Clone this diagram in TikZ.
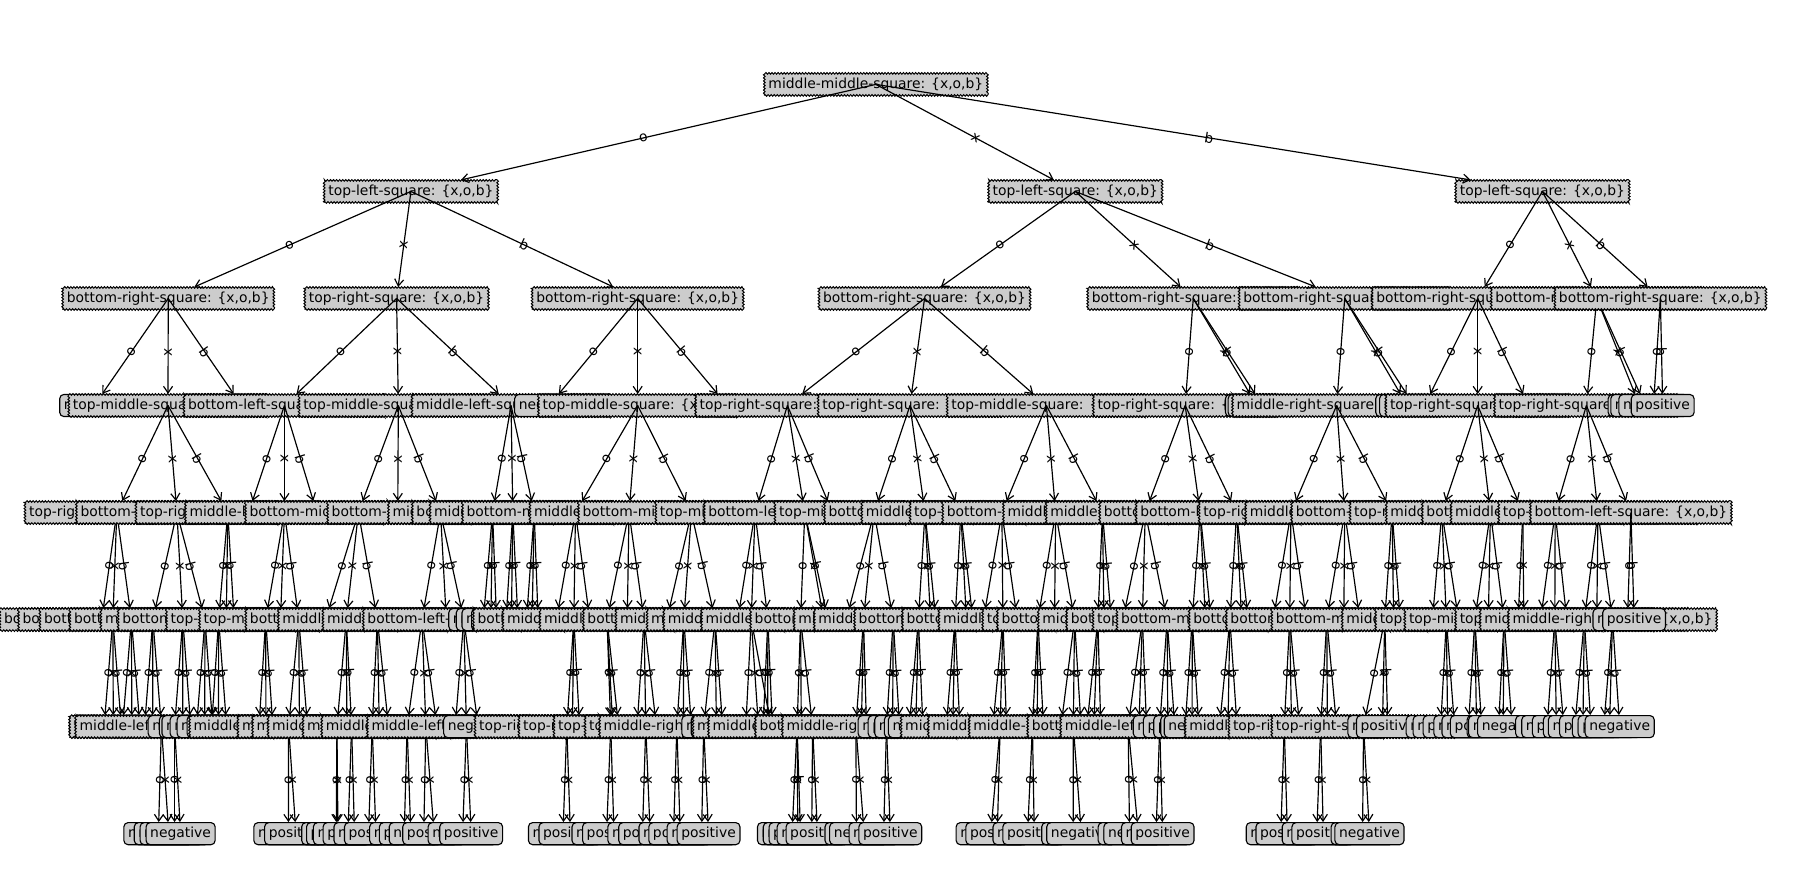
\documentclass[tikz,border=0pt]{standalone}
\usepackage{fontspec}
\setmainfont{DejaVu Sans}
\usetikzlibrary{arrows.meta,decorations.pathmorphing}
\definecolor{boxgray}{gray}{0.8}
\newcounter{lfc}
\newcommand\sq[1]{#1-square: \{x,o,b\}}
\newcommand\DEC[6]{\node[dn] (#2) at (#3,{73+92.57*#4}) {#5};
  \draw[edge] (#1.center) -- (#2);
  \path (#1.center) -- node[elab]{#6} (#2.center);}
\newcommand\LEAF[5]{\stepcounter{lfc}\node[lf] (lf\arabic{lfc}) at (#2,{73+92.57*#3}) {#4};
  \draw[edge] (#1.center) -- (lf\arabic{lfc});
  \path (#1.center) -- node[elab]{#5} (lf\arabic{lfc}.center);}
\newcommand\NEG[4]{\LEAF{#1}{#2}{#3}{negative}{#4}}
\newcommand\POS[4]{\LEAF{#1}{#2}{#3}{positive}{#4}}
\tikzset{
 dn/.style={draw, fill=boxgray, line width=0.7pt, inner xsep=3pt, inner ysep=3pt,
   text height=7.6pt, text depth=2.3pt, decorate,
   decoration={zigzag, segment length=2.2pt, amplitude=0.6pt}},
 lf/.style={draw, fill=boxgray, line width=0.8pt, rounded corners=3pt, inner xsep=3pt,
   inner ysep=3pt, text height=7.6pt, text depth=2.3pt},
 edge/.style={line width=0.85pt, -{Straight Barb[length=4.8pt,width=6.5pt]}},
 elab/.style={sloped, inner sep=0pt}
}
\begin{document}
\begin{tikzpicture}[x=0.8325pt,y=-0.8325pt]
\useasboundingbox (0,0) rectangle (1568,758);
\node[dn] (R) at (757.5,73) {\sq{middle-middle}};
% ---------------- A
\DEC{R}{A}{355.4}{1}{\sq{top-left}}{o}
 \DEC{A}{A1}{145.5}{2}{\sq{bottom-right}}{o}
  \NEG{A1}{81.5}{3}{o}
  \DEC{A1}{L3b}{145.3}{3}{\sq{top-middle}}{x}
   \DEC{L3b}{F1}{101}{4}{\sq{top-right}}{o}
    \NEG{F1}{88}{5}{o}
    \DEC{F1}{P1}{97.6}{5}{\sq{bottom-middle}}{x}
     \NEG{P1}{90}{6}{o} \POS{P1}{98}{6}{x} \NEG{P1}{105}{6}{b}
    \DEC{F1}{P2}{113.7}{5}{\sq{bottom-middle}}{b}
     \NEG{P2}{106}{6}{o} \POS{P2}{114}{6}{x} \NEG{P2}{121}{6}{b}
   \DEC{L3b}{F2}{153}{4}{\sq{bottom-left}}{x}
    \DEC{F2}{P3}{132.2}{5}{\sq{bottom-middle}}{o}
     \NEG{P3}{125}{6}{o} \POS{P3}{132}{6}{x}
     \DEC{P3}{a1}{139.6}{6}{\sq{top-right}}{b}
      \NEG{a1}{137}{7}{o} \NEG{a1}{146}{7}{x}
    \DEC{F2}{P4}{158.1}{5}{\sq{bottom-middle}}{x}
     \DEC{P4}{a2}{151}{6}{\sq{middle-left}}{o}
      \NEG{a2}{151}{7}{o} \NEG{a2}{156.2}{7}{x}
     \NEG{P4}{158}{6}{x} \POS{P4}{165}{6}{b}
    \DEC{F2}{P5}{177.3}{5}{\sq{middle-right}}{b}
     \NEG{P5}{170}{6}{o} \NEG{P5}{177}{6}{x} \POS{P5}{184}{6}{b}
   \DEC{L3b}{F3}{197}{4}{\sq{top-right}}{b}
    \DEC{F3}{P6}{189.1}{5}{\sq{bottom-left}}{o}
     \NEG{P6}{183}{6}{o} \POS{P6}{189}{6}{x} \NEG{P6}{196}{6}{b}
    \POS{F3}{195.7}{5}{x} \NEG{F3}{202.5}{5}{b}
  \POS{A1}{209}{3}{b}
 \DEC{A}{A2}{343}{2}{\sq{top-right}}{x}
  \DEC{A2}{L3d}{246}{3}{\sq{bottom-left}}{o}
   \NEG{L3d}{215}{4}{o}
   \DEC{L3d}{F4}{246}{4}{\sq{middle-left}}{x}
    \DEC{F4}{P7}{229.8}{5}{\sq{top-middle}}{o}
     \NEG{P7}{224}{6}{o} \POS{P7}{230}{6}{x} \NEG{P7}{236}{6}{b}
    \POS{F4}{242.6}{5}{x}
    \DEC{F4}{P8}{258.4}{5}{\sq{top-middle}}{b}
     \DEC{P8}{a3}{249.6}{6}{\sq{middle-left}}{o}
      \NEG{a3}{249.4}{7}{o} \POS{a3}{256}{7}{x}
     \POS{P8}{259}{6}{x} \NEG{P8}{266}{6}{b}
   \POS{L3d}{274}{4}{b}
  \DEC{A2}{L3e}{344.5}{3}{\sq{top-middle}}{x}
   \DEC{L3e}{F5}{310}{4}{\sq{bottom-middle}}{o}
    \NEG{F5}{281.6}{5}{o}
    \DEC{F5}{P9}{299.5}{5}{\sq{bottom-left}}{x}
     \DEC{P9}{a4}{291.4}{6}{\sq{middle-left}}{o}
      \NEG{a4}{290.8}{7}{o} \POS{a4}{292.3}{7}{x}
     \POS{P9}{300}{6}{x}
     \DEC{P9}{a5}{304.1}{6}{\sq{middle-left}}{b}
      \NEG{a5}{300.9}{7}{o} \POS{a5}{306.6}{7}{x}
    \DEC{F5}{P10}{326.4}{5}{\sq{middle-left}}{b}
     \DEC{P10}{a6}{321.9}{6}{\sq{middle-right}}{o}
      \NEG{a6}{318.7}{7}{o} \POS{a6}{325.1}{7}{x}
     \POS{P10}{328}{6}{x} \NEG{P10}{336}{6}{b}
   \NEG{L3e}{344}{4}{x}
   \DEC{L3e}{F6}{381}{4}{\sq{bottom-middle}}{b}
    \DEC{F6}{P11}{365}{5}{\sq{middle-left}}{o}
     \DEC{P11}{a7}{352.1}{6}{\sq{middle-right}}{o}
      \NEG{a7}{349.6}{7}{o} \POS{a7}{355.3}{7}{x}
     \DEC{P11}{a8}{368.3}{6}{\sq{middle-right}}{x}
      \NEG{a8}{366.5}{7}{o} \POS{a8}{375.5}{7}{x}
     \POS{P11}{378}{6}{b}
    \NEG{F6}{386}{5}{x}
    \DEC{F6}{P12}{401.1}{5}{\sq{bottom-left}}{b}
     \POS{P12}{393.7}{6}{o}
     \DEC{P12}{a9}{403.4}{6}{\sq{middle-left}}{x}
      \NEG{a9}{400.1}{7}{o} \POS{a9}{407.5}{7}{x}
     \NEG{P12}{413.6}{6}{b}
  \DEC{A2}{L3f}{442}{3}{\sq{middle-left}}{b}
   \DEC{L3f}{F7}{426}{4}{\sq{middle-right}}{o}
    \NEG{F7}{418}{5}{o} \NEG{F7}{424.5}{5}{x} \NEG{F7}{429.4}{5}{b}
   \DEC{L3f}{F8}{443.5}{4}{\sq{bottom-left}}{x}
    \NEG{F8}{437.7}{5}{o} \POS{F8}{442.3}{5}{x} \NEG{F8}{447.9}{5}{b}
   \DEC{L3f}{F9}{462}{4}{\sq{middle-right}}{b}
    \NEG{F9}{455.4}{5}{o} \POS{F9}{460.2}{5}{x} \NEG{F9}{465.4}{5}{b}
 \DEC{A}{A3}{551.5}{2}{\sq{bottom-right}}{b}
  \NEG{A3}{475}{3}{o}
  \DEC{A3}{L3h}{551.5}{3}{\sq{top-middle}}{x}
   \DEC{L3h}{F10}{497.7}{4}{\sq{bottom-middle}}{o}
    \NEG{F10}{481.3}{5}{o}
    \DEC{F10}{P13}{496.3}{5}{\sq{bottom-left}}{x}
     \DEC{P13}{a10}{490.2}{6}{\sq{top-right}}{o}
      \NEG{a10}{486.9}{7}{o} \POS{a10}{493.3}{7}{x}
     \POS{P13}{495}{6}{x} \NEG{P13}{501.3}{6}{b}
    \POS{F10}{510.1}{5}{b}
   \DEC{L3h}{F11}{544}{4}{\sq{middle-left}}{x}
    \DEC{F11}{P14}{525}{5}{\sq{middle-right}}{o}
     \DEC{P14}{a11}{528.2}{6}{\sq{top-right}}{o}
      \NEG{a11}{524.6}{7}{o} \POS{a11}{531}{7}{x}
     \POS{P14}{530}{6}{x} \NEG{P14}{535}{6}{b}
    \POS{F11}{542.5}{5}{x}
    \DEC{F11}{P15}{557}{5}{\sq{middle-right}}{b}
     \NEG{P15}{551}{6}{o}
     \DEC{P15}{a12}{558.5}{6}{\sq{top-right}}{x}
      \NEG{a12}{555.6}{7}{o} \POS{a12}{562.3}{7}{x}
     \POS{P15}{567.7}{6}{b}
   \DEC{L3h}{F12}{598}{4}{\sq{bottom-middle}}{b}
    \NEG{F12}{576.7}{5}{o}
    \DEC{F12}{P16}{591.4}{5}{\sq{bottom-left}}{x}
     \DEC{P16}{a13}{585.4}{6}{\sq{top-right}}{o}
      \NEG{a13}{582.5}{7}{o} \POS{a13}{588.3}{7}{x}
     \POS{P16}{591}{6}{x} \NEG{P16}{598}{6}{b}
    \DEC{F12}{P17}{618.4}{5}{\sq{middle-left}}{b}
     \DEC{P17}{a14}{608.6}{6}{\sq{middle-right}}{o}
      \NEG{a14}{606.8}{7}{o} \POS{a14}{612.8}{7}{x}
     \NEG{P17}{619.6}{6}{x} \POS{P17}{625}{6}{b}
  \POS{A3}{629}{3}{b}
% ---------------- B
\DEC{R}{B}{930}{1}{\sq{top-left}}{x}
 \DEC{B}{B1}{799.6}{2}{\sq{bottom-right}}{o}
  \DEC{B1}{L3j}{681}{3}{\sq{top-right}}{o}
   \DEC{L3j}{F13}{653}{4}{\sq{top-middle}}{o}
    \NEG{F13}{638}{5}{o}
    \DEC{F13}{P18}{649.7}{5}{\sq{middle-right}}{x}
     \NEG{P18}{645}{6}{o} \POS{P18}{656}{6}{x} \NEG{P18}{667}{6}{b}
    \DEC{F13}{P19}{664.1}{5}{\sq{middle-right}}{b}
     \NEG{P19}{660}{6}{o} \POS{P19}{664}{6}{x} \NEG{P19}{668}{6}{b}
   \DEC{L3j}{F14}{696}{4}{\sq{bottom-left}}{x}
    \DEC{F14}{P20}{692.4}{5}{\sq{middle-left}}{o}
     \DEC{P20}{a15}{689.4}{6}{\sq{middle-right}}{o}
      \NEG{a15}{685}{7}{o} \NEG{a15}{690}{7}{x} \POS{a15}{692.3}{7}{b}
     \POS{P20}{693}{6}{x}
     \DEC{P20}{a16}{702.8}{6}{\sq{middle-right}}{b}
      \NEG{a16}{702}{7}{o} \POS{a16}{707}{7}{x}
    \POS{F14}{712.4}{5}{x} \NEG{F14}{716.1}{5}{b}
   \POS{L3j}{720}{4}{b}
  \DEC{B1}{L3k}{787}{3}{\sq{top-right}}{x}
   \DEC{L3k}{F15}{756}{4}{\sq{top-middle}}{o}
    \NEG{F15}{731.9}{5}{o}
    \DEC{F15}{P21}{746.8}{5}{\sq{bottom-middle}}{x}
     \DEC{P21}{a17}{740.2}{6}{\sq{bottom-left}}{o}
      \POS{a17}{740.7}{7}{o} \NEG{a17}{747.4}{7}{x}
     \NEG{P21}{745}{6}{x} \POS{P21}{749.4}{6}{b}
    \DEC{F15}{P22}{772.5}{5}{\sq{middle-left}}{b}
     \DEC{P22}{a18}{766.7}{6}{\sq{middle-right}}{o}
      \NEG{a18}{764.2}{7}{o} \POS{a18}{770}{7}{x}
     \NEG{P22}{772}{6}{x} \POS{P22}{778}{6}{b}
   \DEC{L3k}{F16}{800}{4}{\sq{bottom-left}}{x}
    \DEC{F16}{P23}{794.3}{5}{\sq{middle-right}}{o}
     \NEG{P23}{786.4}{6}{o} \POS{P23}{792}{6}{x} \NEG{P23}{798.2}{6}{b}
    \POS{F16}{804.8}{5}{x} \NEG{F16}{809.4}{5}{b}
   \DEC{L3k}{F17}{831}{4}{\sq{middle-left}}{b}
    \DEC{F17}{P24}{826}{5}{\sq{bottom-left}}{o}
     \NEG{P24}{818.4}{6}{o} \POS{P24}{824}{6}{x} \NEG{P24}{830.1}{6}{b}
    \POS{F17}{835.8}{5}{x} \NEG{F17}{841.4}{5}{b}
  \DEC{B1}{L3l}{905}{3}{\sq{top-middle}}{b}
   \DEC{L3l}{F18}{866.5}{4}{\sq{top-right}}{o}
    \NEG{F18}{850.5}{5}{o}
    \DEC{F18}{P25}{867.4}{5}{\sq{bottom-left}}{x}
     \NEG{P25}{858.7}{6}{o}
     \DEC{P25}{a19}{865}{6}{\sq{middle-left}}{x}
      \NEG{a19}{856.8}{7}{o} \POS{a19}{862.5}{7}{x}
     \POS{P25}{870.5}{6}{b}
    \NEG{F18}{879.8}{5}{b}
   \DEC{L3l}{F19}{913}{4}{\sq{bottom-middle}}{x}
    \DEC{F19}{P26}{897.7}{5}{\sq{middle-left}}{o}
     \DEC{P26}{a20}{892.9}{6}{\sq{middle-right}}{o}
      \NEG{a20}{888.7}{7}{o} \POS{a20}{894.5}{7}{x}
     \POS{P26}{897}{6}{x} \NEG{P26}{902.5}{6}{b}
    \POS{F19}{912}{5}{x}
    \DEC{F19}{P27}{929.3}{5}{\sq{top-right}}{b}
     \NEG{P27}{917.6}{6}{o}
     \DEC{P27}{a21}{928.3}{6}{\sq{middle-right}}{x}
      \POS{a21}{928.1}{7}{o} \NEG{a21}{935.2}{7}{x}
     \POS{P27}{935}{6}{b}
   \DEC{L3l}{F20}{953.5}{4}{\sq{middle-left}}{b}
    \DEC{F20}{P28}{949.5}{5}{\sq{bottom-left}}{o}
     \NEG{P28}{940}{6}{o} \POS{P28}{946}{6}{x} \NEG{P28}{952}{6}{b}
    \POS{F20}{954.8}{5}{x} \NEG{F20}{961.1}{5}{b}
 \DEC{B}{B2}{1032}{2}{\sq{bottom-right}}{x}
  \DEC{B2}{L3m}{1025}{3}{\sq{top-right}}{o}
   \DEC{L3m}{F21}{990.5}{4}{\sq{middle-left}}{o}
    \NEG{F21}{971.1}{5}{o}
    \DEC{F21}{P29}{988}{5}{\sq{middle-right}}{x}
     \DEC{P29}{a22}{975.7}{6}{\sq{bottom-left}}{o}
      \POS{a22}{976.9}{7}{o} \NEG{a22}{984.6}{7}{x}
     \POS{P29}{985}{6}{x} \NEG{P29}{991.6}{6}{b}
    \DEC{F21}{P30}{1009.4}{5}{\sq{bottom-left}}{b}
     \DEC{P30}{a23}{1003}{6}{\sq{middle-left}}{o}
      \NEG{a23}{999.8}{7}{o} \POS{a23}{1005.5}{7}{x}
     \NEG{P30}{1010}{6}{x} \POS{P30}{1016}{6}{b}
   \DEC{L3m}{F22}{1038}{4}{\sq{bottom-left}}{x}
    \DEC{F22}{P31}{1031.1}{5}{\sq{top-middle}}{o}
     \POS{P31}{1025}{6}{o} \POS{P31}{1031}{6}{x} \NEG{P31}{1036.8}{6}{b}
    \POS{F22}{1042.5}{5}{x} \NEG{F22}{1047.4}{5}{b}
   \DEC{L3m}{F23}{1069.5}{4}{\sq{bottom-left}}{b}
    \DEC{F23}{P32}{1063.7}{5}{\sq{bottom-middle}}{o}
     \NEG{P32}{1054.7}{6}{o} \POS{P32}{1062}{6}{x} \NEG{P32}{1069.9}{6}{b}
    \POS{F23}{1073.8}{5}{x} \NEG{F23}{1079.5}{5}{b}
  \POS{B2}{1087}{3}{x} \NEG{B2}{1092}{3}{b}
 \DEC{B}{B3}{1163}{2}{\sq{bottom-right}}{b}
  \DEC{B3}{L3p}{1156}{3}{\sq{middle-right}}{o}
   \DEC{L3p}{F24}{1116.5}{4}{\sq{top-right}}{o}
    \NEG{F24}{1101.2}{5}{o}
    \DEC{F24}{P33}{1115.4}{5}{\sq{bottom-left}}{x}
     \DEC{P33}{a24}{1110.7}{6}{\sq{middle-left}}{o}
      \NEG{a24}{1107.7}{7}{o} \POS{a24}{1113.4}{7}{x}
     \POS{P33}{1117}{6}{x} \NEG{P33}{1124}{6}{b}
    \POS{F24}{1129.9}{5}{b}
   \DEC{L3p}{F25}{1163}{4}{\sq{middle-left}}{x}
    \DEC{F25}{P34}{1147.5}{5}{\sq{bottom-left}}{o}
     \DEC{P34}{a25}{1142.2}{6}{\sq{top-right}}{o}
      \NEG{a25}{1138.8}{7}{o} \POS{a25}{1144.5}{7}{x}
     \POS{P34}{1148}{6}{x} \NEG{P34}{1156}{6}{b}
    \POS{F25}{1162.2}{5}{x} \NEG{F25}{1176.1}{5}{b}
   \DEC{L3p}{F26}{1204}{4}{\sq{bottom-left}}{b}
    \DEC{F26}{P35}{1197.6}{5}{\sq{bottom-middle}}{o}
     \DEC{P35}{a26}{1179.3}{6}{\sq{top-right}}{o}
      \POS{a26}{1178.4}{7}{o} \NEG{a26}{1184.4}{7}{x}
     \NEG{P35}{1195.6}{6}{x} \POS{P35}{1200.3}{6}{b}
    \POS{F26}{1205.3}{5}{x} \NEG{F26}{1211}{5}{b}
  \POS{B3}{1217}{3}{x} \NEG{B3}{1223}{3}{b}
% ---------------- C
\DEC{R}{C}{1334}{1}{\sq{top-left}}{b}
 \DEC{C}{C1}{1278}{2}{\sq{bottom-right}}{o}
  \NEG{C1}{1232}{3}{o}
  \DEC{C1}{L3t}{1278}{3}{\sq{top-right}}{x}
   \DEC{L3t}{F27}{1247}{4}{\sq{top-right}}{o}
    \NEG{F27}{1238.8}{5}{o}
    \DEC{F27}{P36}{1250.9}{5}{\sq{middle-right}}{x}
     \NEG{P36}{1246}{6}{o} \NEG{P36}{1252}{6}{x} \POS{P36}{1258}{6}{b}
    \POS{F27}{1261.5}{5}{b}
   \DEC{L3t}{F28}{1289}{4}{\sq{middle-right}}{x}
    \DEC{F28}{P37}{1275.5}{5}{\sq{top-middle}}{o}
     \NEG{P37}{1270}{6}{o} \NEG{P37}{1277}{6}{x} \POS{P37}{1281.5}{6}{b}
    \POS{F28}{1287.2}{5}{x}
    \DEC{F28}{P38}{1300.8}{5}{\sq{top-middle}}{b}
     \POS{P38}{1296}{6}{o} \NEG{P38}{1300}{6}{x} \NEG{P38}{1307.8}{6}{b}
   \DEC{L3t}{F29}{1317}{4}{\sq{bottom-left}}{b}
    \NEG{F29}{1313}{5}{o} \POS{F29}{1317.9}{5}{x}
  \POS{C1}{1322}{3}{b}
 \DEC{C}{C2}{1381}{2}{\sq{bottom-right}}{x}
  \DEC{C2}{L3v}{1372}{3}{\sq{top-right}}{o}
   \DEC{L3v}{F30}{1345}{4}{\sq{middle-right}}{o}
    \NEG{F30}{1332.4}{5}{o}
    \DEC{F30}{P39}{1344.7}{5}{\sq{top-middle}}{x}
     \POS{P39}{1338}{6}{o} \NEG{P39}{1346}{6}{x} \POS{P39}{1352.5}{6}{b}
    \NEG{F30}{1355.1}{5}{b}
   \DEC{L3v}{F31}{1382}{4}{\sq{top-middle}}{x}
    \DEC{F31}{P40}{1370.2}{5}{\sq{middle-right}}{o}
     \POS{P40}{1362}{6}{o} \NEG{P40}{1369}{6}{x} \POS{P40}{1376}{6}{b}
    \POS{F31}{1381}{5}{x}
    \DEC{F31}{P41}{1394.6}{5}{\sq{middle-right}}{b}
     \POS{P41}{1387}{6}{o} \POS{P41}{1392}{6}{x} \NEG{P41}{1400.8}{6}{b}
   \DEC{L3v}{F32}{1410.5}{4}{\sq{bottom-left}}{b}
    \NEG{F32}{1407.6}{5}{o} \POS{F32}{1413.3}{5}{b}
  \POS{C2}{1418}{3}{x} \NEG{C2}{1423}{3}{b}
 \DEC{C}{C3}{1436}{2}{\sq{bottom-right}}{b}
  \NEG{C3}{1430}{3}{o} \POS{C3}{1438}{3}{b}
\end{tikzpicture}
\end{document}
